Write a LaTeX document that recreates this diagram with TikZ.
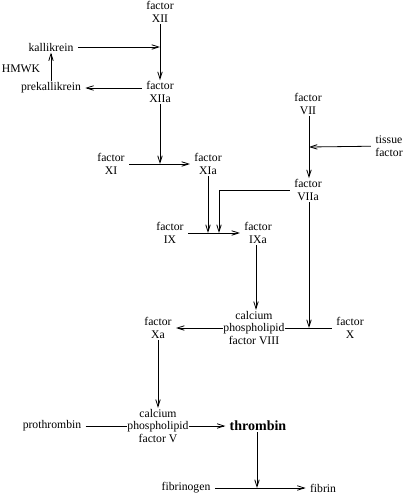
\documentclass[tikz,border=0pt]{standalone}
\usepackage{fontspec}
\setmainfont{Liberation Serif}
\usetikzlibrary{arrows.meta}
\tikzset{
	labelnode/.style = {
		align=center,
		inner xsep=4pt,
		inner ysep=1pt,
		font=\fontsize{11.7}{12.6}\selectfont
	},
	node_f/.style = {
		labelnode
	},
	node_cx/.style = {
		labelnode,
		inner xsep=0.5pt
	},
	node_bold/.style = {
		labelnode,
		font=\fontsize{14}{15}\selectfont\bfseries
	},
}
\begin{document}
\begin{tikzpicture}[x=1pt,y=-1pt,->,>={Straight Barb[length=7pt,width=4.5pt]},line width=0.8pt]
\useasboundingbox (0,0) rectangle (405,496);
% labels
\node [node_f] (xii) at (160,12) {factor\\XII};
\node [node_f] (kal) at (51,47) {kallikrein};
\node [node_f] (hmwk) at (21,69) {HMWK};
\node [node_f] (pre) at (51,88) {prekallikrein};
\node [node_f] (xiia) at (160,92) {factor\\XIIa};
\node [node_f] (xi) at (111,164) {factor\\XI};
\node [node_f] (xia) at (208,164) {factor\\XIa};
\node [node_f] (vii) at (308,104) {factor\\VII};
\node [node_f] (tf) at (389,146) {tissue\\factor};
\node [node_f] (viia) at (308,190) {factor\\VIIa};
\node [node_f] (ix) at (170,233) {factor\\IX};
\node [node_f] (ixa) at (258,233) {factor\\IXa};
\node [node_cx] (c8) at (254,328) {calcium\\phospholipid\\factor VIII};
\node [node_f] (x) at (350,328) {factor\\X};
\node [node_f] (xa) at (158,328) {factor\\Xa};
\node [node_cx] (c5) at (158,426) {calcium\\phospholipid\\factor V};
\node [node_f] (pro) at (52,426) {prothrombin};
\node [node_bold] (thr) at (258,426) {thrombin};
\node [node_f] (fbg) at (186,488) {fibrinogen};
\node [node_f] (fib) at (323,488) {fibrin};
% points on the lines
\coordinate (k1) at (160,47);
\coordinate (a1) at (160,164);
\coordinate (t1) at (309,147);
\coordinate (v1) at (219,190);
\coordinate (v2) at (219,233);
\coordinate (b1) at (208,233);
\coordinate (v3) at (309,328);
\coordinate (f1) at (257,488);
% connectors
\draw (xii) -- (xiia);
\draw (kal) -- (k1);
\draw (xiia.west |- pre) -- (pre);
\draw (pre) -- (kal);
\draw (xiia) -- (a1);
\draw (xi) -- (xia);
\draw (vii.south -| t1) -- (viia.north -| t1);
\draw (tf) -- (t1);
\draw[-] (viia) -- (v1);
\draw (v1) -- (v2);
\draw (xia) -- (b1);
\draw (ix) -- (ixa);
\draw (ixa.south -| 256,0) -- (c8.north -| 256,0);
\draw (viia.south -| v3) -- (v3);
\draw[-] (x) -- (c8);
\draw (c8) -- (xa);
\draw (xa) -- (c5);
\draw[-] (pro) -- (c5);
\draw (c5) -- (thr);
\draw (thr.south -| f1) -- (f1);
\draw (fbg) -- (fib);
\end{tikzpicture}
\end{document}
